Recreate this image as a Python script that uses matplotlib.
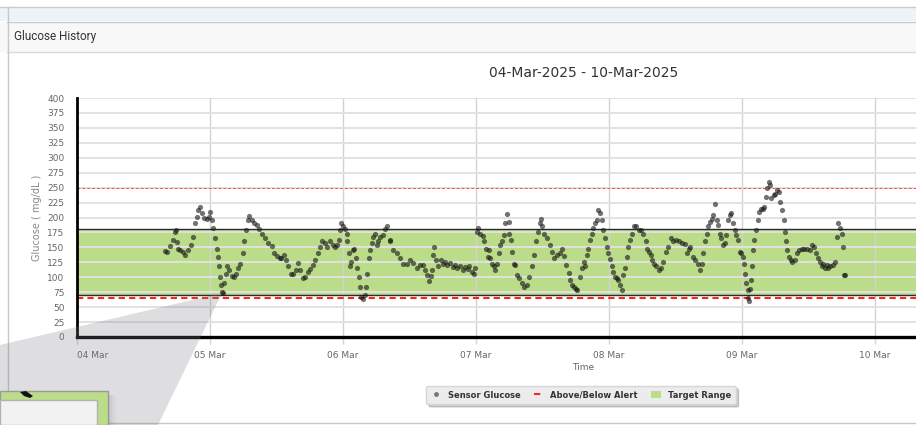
"""
Glucose history panel: one week of CGM sensor readings over the target band.
"""

import pandas as pd
import matplotlib
matplotlib.use("Agg")
import matplotlib.pyplot as plt
from matplotlib.lines import Line2D
from matplotlib.patches import Patch, Rectangle, Polygon

W, H = 916, 425  # canvas size in pixels

# Sensor readings, hours after midnight of each day -> mg/dL
mar04_hours = [15.9, 16.2, 16.8, 17.3, 17.7, 17.8, 18.0, 18.3, 18.6, 19.2, 19.5, 20.1, 20.5,
               20.9, 21.3, 21.6, 21.9, 22.2, 22.5, 22.9, 23.4, 23.8]
mar04_mgdl = [144, 143, 152, 162, 176, 179, 159, 147, 146, 143, 137, 146, 154,
              168, 190, 201, 213, 217, 207, 199, 197, 201]

mar05_hours = [0.0, 0.3, 0.6, 0.9, 1.2, 1.4, 1.6, 1.8, 1.9, 2.2, 2.3, 2.5, 2.8, 3.1, 3.5, 3.9,
               4.3, 4.7, 5.1, 5.5, 5.9, 6.2, 6.5, 6.8, 7.1, 7.5, 7.9, 8.4, 8.9, 9.3, 9.9, 10.5,
               11.1, 11.6, 12.0, 12.6, 12.9, 13.4, 13.7, 14.1, 14.6, 15.0, 15.5, 15.9, 16.3,
               16.7, 17.2, 17.6, 18.1, 18.5, 19.0, 19.4, 19.9, 20.3, 20.8, 21.2, 21.7, 22.2,
               22.6, 22.9, 23.2, 23.5, 23.7]
mar05_mgdl = [210, 196, 182, 165, 148, 134, 118, 101, 87, 76, 73, 90, 106, 118, 112, 102,
              101, 106, 115, 123, 140, 160, 179, 196, 202, 196, 190, 187, 180, 173, 165, 157,
              152, 140, 135, 132, 133, 137, 129, 118, 105, 106, 112, 124, 112,
              98, 101, 109, 113, 120, 129, 140, 151, 160, 158, 151, 161, 154,
              151, 154, 162, 179, 190]

mar06_hours = [0.0, 0.4, 0.7, 0.8, 1.0, 1.2, 1.4, 1.8, 2.0, 2.4, 2.6, 2.8, 3.1, 3.3, 3.6, 3.9,
               4.2, 4.4, 4.7, 4.9, 5.2, 5.5, 5.8, 6.1, 6.4, 6.7, 7.2, 7.6, 7.9, 8.4, 8.5, 9.1,
               9.7, 10.3, 10.9, 11.5, 12.1, 12.7, 13.3, 13.9, 14.4, 14.8, 15.2, 15.5, 15.8,
               16.1, 16.3, 16.5, 16.8, 17.2, 17.6, 18.0, 18.4, 18.8, 19.3, 19.8, 20.2, 20.6,
               21.1, 21.6, 22.0, 22.5, 22.8, 23.2, 23.7, 23.9]
mar06_mgdl = [186, 180, 173, 160, 140, 118, 126, 146, 148, 132, 115, 101, 84, 67, 63, 70,
              84, 106, 132, 146, 157, 168, 173, 154, 160, 168, 171, 180, 186, 162, 160, 146,
              140, 133, 123, 122, 129, 124, 115, 120, 120, 112, 104, 94, 102,
              112, 137, 150, 129, 118, 129, 123, 126, 120, 124, 117, 120, 115,
              118, 112, 117, 113, 119, 109, 106, 115]

mar07_hours = [0.1, 0.4, 0.7, 1.2, 1.5, 1.8, 2.1, 2.3, 2.5, 2.9, 3.2, 3.5, 3.8, 4.1, 4.4, 4.7,
               5.0, 5.3, 5.6, 5.9, 6.0, 6.3, 6.5, 6.8, 7.1, 7.4, 7.8, 8.3, 8.7, 9.2, 9.6, 10.1,
               10.5, 10.9, 11.2, 11.5, 11.7, 11.9, 12.3, 12.8, 13.3, 13.7, 14.1, 14.6, 15.2,
               15.5, 15.9, 16.3, 16.7, 17.0, 17.4, 17.7, 18.1, 18.3, 18.7, 19.1, 19.4, 19.7,
               20.0, 20.3, 20.6, 20.9, 21.2, 21.5, 21.8, 22.1, 22.4, 22.7, 23.0, 23.3, 23.6, 23.9]
mar07_mgdl = [176, 183, 173, 169, 160, 148, 134, 146, 132, 123, 118, 112, 123, 140, 154, 160,
              171, 190, 206, 193, 173, 162, 143, 123, 120, 104, 98, 90, 84, 87, 101, 118,
              137, 160, 176, 190, 197, 186, 173, 165, 154, 143, 133, 137, 141,
              148, 136, 120, 107, 95, 87, 84, 81, 79, 100, 115, 126, 118,
              137, 148, 162, 173, 182, 190, 196, 213, 208, 196, 179, 165, 151, 140]

mar08_hours = [0.2, 0.5, 0.8, 1.1, 1.4, 1.7, 2.0, 2.3, 2.6, 2.9, 3.2, 3.5, 3.8, 4.1, 4.6, 4.9,
               5.4, 5.8, 6.1, 6.6, 6.9, 7.2, 7.5, 7.8, 8.2, 8.5, 9.0, 9.4, 9.7, 10.2, 10.6,
               11.1, 11.6, 12.0, 12.6, 13.2, 13.8, 14.1, 14.4, 14.7, 15.2, 15.6, 16.0, 16.5,
               16.7, 17.0, 17.3, 17.6, 17.9, 18.2, 18.5, 18.8, 19.1, 19.4, 19.7, 20.0, 20.3,
               20.6, 20.9, 21.2, 21.5, 21.8, 22.1, 22.4, 22.7, 23.0, 23.3, 23.6, 23.9]
mar08_mgdl = [130, 118, 109, 101, 98, 95, 87, 79, 104, 115, 134, 151, 162, 173, 185, 186,
              179, 179, 173, 160, 148, 143, 137, 129, 123, 118, 112, 115, 126, 143, 150,
              165, 160, 162, 160, 158, 156, 140, 148, 151, 134, 129, 123, 112,
              123, 140, 160, 173, 185, 193, 197, 204, 223, 196, 187, 173, 165,
              154, 157, 171, 196, 204, 208, 190, 179, 171, 162, 143, 140]

mar09_hours = [0.2, 0.4, 0.5, 0.7, 1.0, 1.1, 1.3, 1.4, 1.6, 1.8, 2.0, 2.2, 2.5, 2.8, 3.1, 3.4,
               3.7, 4.0, 4.3, 4.6, 4.9, 5.0, 5.3, 5.7, 6.0, 6.3, 6.6, 6.9, 7.2, 7.5, 7.8, 8.0,
               8.2, 8.5, 8.8, 9.1, 9.6, 10.0, 10.3, 10.8, 11.2, 11.7, 12.2, 12.6, 13.0, 13.4,
               13.8, 14.1, 14.4, 14.7, 15.0, 15.3, 15.6, 15.9, 16.4, 16.8, 17.1, 17.4, 17.7,
               18.0, 18.3, 18.4, 18.5]
mar09_mgdl = [134, 123, 106, 90, 79, 65, 61, 81, 95, 118, 146, 162, 179, 196, 210, 215,
              214, 218, 235, 249, 260, 254, 232, 238, 240, 246, 242, 226, 213, 196, 176, 160,
              146, 134, 129, 126, 129, 140, 146, 148, 147, 148, 146, 154, 150, 140,
              133, 126, 118, 123, 115, 120, 115, 118, 120, 126, 168, 190, 182,
              173, 151, 104, 103]

readings = [
    ("2025-03-04", mar04_hours, mar04_mgdl),
    ("2025-03-05", mar05_hours, mar05_mgdl),
    ("2025-03-06", mar06_hours, mar06_mgdl),
    ("2025-03-07", mar07_hours, mar07_mgdl),
    ("2025-03-08", mar08_hours, mar08_mgdl),
    ("2025-03-09", mar09_hours, mar09_mgdl),
]

TARGET_LOW, TARGET_HIGH = 70, 180
ALERT_LOW, ALERT_HIGH = 65, 250
y_ticks = list(range(0, 401, 25))
day_ticks = pd.date_range("2025-03-04", "2025-03-10", freq="D")

GREEN = "#bbdc88"
ALERT_RED = "#ff2222"

times, values = [], []
for day, hrs, mg in readings:
    times.extend(pd.Timestamp(day) + pd.to_timedelta(hrs, unit="h"))
    values.extend(mg)


def fx(x):
    return x / W


def fy(y):
    return 1 - y / H


fig = plt.figure(figsize=(W / 100, H / 100), dpi=100)
fig.patch.set_facecolor("white")

# page chrome around the panel
fig.add_artist(Rectangle((0, fy(21)), 1, 14 / H, transform=fig.transFigure,
                         facecolor="#edf3f6", edgecolor="none", zorder=-5))
fig.add_artist(Rectangle((0, fy(52)), 1, 30 / H, transform=fig.transFigure,
                         facecolor="#f8f8f8", edgecolor="none", zorder=-5))
for yy, col in [(7, "#c5cdd2"), (21.5, "#c8cdd0"), (52, "#d9d9d9"), (423, "#c8c8c8")]:
    fig.add_artist(Line2D([fx(7) if yy > 7 else 0, 1], [fy(yy), fy(yy)],
                          transform=fig.transFigure, color=col, lw=1))
fig.add_artist(Line2D([fx(7.5), fx(7.5)], [fy(7), fy(392)], transform=fig.transFigure,
                      color="#c8c8c8", lw=1))
fig.text(fx(14), fy(36.5), "Glucose History", fontsize=8.5, color="#333333",
         family="Roboto", va="center", ha="left")
fig.text(fx(584), fy(73), "04-Mar-2025 - 10-Mar-2025", fontsize=10, color="#333333",
         va="center", ha="center")

ax = fig.add_axes([fx(77), fy(337), 1 - fx(77), (337 - 98) / H])
ax.set_facecolor("none")

ax.axhspan(TARGET_LOW, TARGET_HIGH, facecolor=GREEN, edgecolor="none", zorder=0)
ax.axhline(TARGET_HIGH, color="#2b2b2b", lw=1, zorder=2)
ax.axhline(TARGET_LOW, color="#2b2b2b", lw=1, zorder=2)
ax.axhline(ALERT_LOW, color=ALERT_RED, lw=1.5, ls=(0, (3, 2)), zorder=2)
ax.axhline(ALERT_HIGH, color=ALERT_RED, lw=0.7, ls=(0, (3, 2)), alpha=0.75, zorder=2)

ax.scatter(times, values, s=14, color="#151515", alpha=0.6, linewidths=0, zorder=3)

ax.set_ylim(0, 400)
ax.set_xlim(day_ticks[0], day_ticks[0] + pd.Timedelta(days=(W - 77) / 133))
ax.set_yticks(y_ticks)
ax.set_xticks(day_ticks)
ax.set_xticklabels([d.strftime("%d %b") for d in day_ticks])
ax.get_xticklabels()[0].set_ha("left")

ax.set_axisbelow(True)
ax.grid(axis="y", color="#e2e2e2", lw=1.4)
ax.grid(axis="x", color="#d2d2d2", lw=1)

for side in ("top", "right"):
    ax.spines[side].set_visible(False)
ax.spines["left"].set_linewidth(2)
ax.spines["bottom"].set_linewidth(2.4)

ax.tick_params(axis="y", length=0, labelsize=6.5, labelcolor="#666666", pad=9)
ax.tick_params(axis="x", length=5, width=1, color="#ccd6eb", labelsize=6.5,
               labelcolor="#666666", pad=5)

ax.set_ylabel("Glucose ( mg/dL )", fontsize=7, color="#888888")
ax.yaxis.set_label_coords((42 - 77) / (W - 77), 0.5)
ax.set_xlabel("Time", fontsize=6.5, color="#666666")
ax.xaxis.set_label_coords((583 - 77) / (W - 77), (337 - 368) / (337 - 98))
ax.xaxis.label.set_va("center")

handles = [
    Line2D([], [], marker="o", ls="", color="#777777", markersize=2.5),
    Line2D([], [], color=ALERT_RED, ls=(0, (3, 2)), lw=1.5),
    Patch(facecolor=GREEN, edgecolor="none"),
]
labels = ["Sensor Glucose", "Above/Below Alert", "Target Range"]
fig.legend(handles, labels, loc="center", bbox_to_anchor=(fx(581), fy(395)), ncol=3,
           frameon=True, fancybox=True, shadow={"alpha": 0.25}, facecolor="#ececec",
           edgecolor="#d6d6d6", framealpha=1, handlelength=1.2, handleheight=0.8,
           handletextpad=0.8, columnspacing=1.6, borderpad=0.55,
           prop={"size": 6, "weight": "bold"}, labelcolor="#333333")

# magnifier callout over the lower-left corner
fig.add_artist(Polygon([(fx(222), fy(293)), (fx(0), fy(345)), (fx(0), fy(425)),
                        (fx(158), fy(425))], closed=True, transform=fig.transFigure,
                       facecolor="#7c7c84", alpha=0.25, edgecolor="none", zorder=5))
for i, a in enumerate([0.18, 0.12, 0.07, 0.03]):
    fig.add_artist(Rectangle((fx(108 + 2 * i), 0), 2 / W, 30 / H, transform=fig.transFigure,
                             facecolor="#555555", alpha=a, edgecolor="none", zorder=6))
fig.add_artist(Rectangle((0, 0), fx(108), 34 / H, transform=fig.transFigure,
                         facecolor=GREEN, edgecolor="#9a9a9a", lw=1, zorder=7))
fig.add_artist(Rectangle((0, 0), fx(97), 25 / H, transform=fig.transFigure,
                         facecolor="#f2f2f2", edgecolor="#b0b0b0", lw=1, zorder=8))
fig.add_artist(Polygon([(fx(20), fy(392)), (fx(26), fy(391)), (fx(33), fy(396)),
                        (fx(30), fy(398)), (fx(24), fy(396))], closed=True,
                       transform=fig.transFigure, facecolor="#111111", edgecolor="none",
                       zorder=8))

fig.savefig("out.png", dpi=100)
